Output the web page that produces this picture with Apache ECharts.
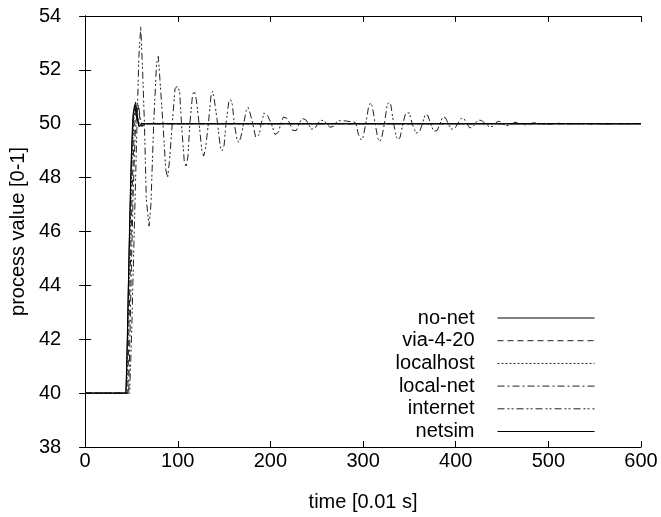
<!DOCTYPE html>
<html lang="en">
<head>
    <meta charset="UTF-8">
    <title>process value</title>
    <script src="https://cdn.jsdelivr.net/npm/echarts@6/dist/echarts.min.js"></script>
    <style>
        html, body { margin: 0; padding: 0; background: #fff; }
        #main { width: 661px; height: 517px; }
    </style>
</head>
<body>
<div id="main"></div>
<script>
    // 图例名称
    var names = ['no-net', 'via-4-20', 'localhost', 'local-net', 'internet', 'netsim'];
    var xTicks = [0, 100, 200, 300, 400, 500, 600];
    var yTicks = [38, 40, 42, 44, 46, 48, 50, 52, 54];

    // [time, value]
    var noNet = [[0, 40], [44, 40], [45, 41], [47, 44.5], [49, 47.5], [51, 49.6], [53, 50.6], [54.5, 50.8],
        [56, 50.4], [58, 49.9], [60, 49.85], [62, 50], [600, 50]];
    var via420 = [[0, 40], [46, 40], [47, 42], [49, 45], [51, 47.8], [53, 49.8], [55, 50.5], [57, 50.7],
        [59, 50.2], [61, 49.9], [64, 50], [600, 50]];
    var localhost = [[0, 40], [45, 40], [46.5, 42.5], [48.5, 45.8], [50.5, 48.5], [52.5, 50.2], [54.5, 50.7],
        [56.5, 50.3], [59, 49.9], [62, 50], [600, 50]];
    var localNet = [[0, 40], [47, 40], [48, 41.5], [50, 44.8], [52, 47.6], [54, 49.6], [56, 50.5], [58, 50.6],
        [60, 50.1], [62, 49.9], [65, 50], [600, 50]];
    var internet = [[0, 40], [48, 40], [50, 42], [53, 46], [56, 50], [58, 52.5], [60, 53.6], [62, 52], [64, 50],
        [66, 47.2], [69, 46.2], [71, 47], [74, 50], [77, 52.2], [79, 52.5], [81, 51.5], [84, 50],
        [87, 48.3], [89, 48.0], [91, 48.6], [94, 50], [97, 51.3], [99.5, 51.4], [102, 51.2], [104, 50],
        [107, 48.6], [109, 48.4], [111, 48.8], [113, 50], [116, 51.1], [118, 51.2], [120, 50.9], [123, 50],
        [126, 49], [128, 48.8], [130, 49.1], [133, 50], [136, 51.1], [137.5, 51.2], [139, 51], [143, 50],
        [146, 49.1], [148, 49.0], [150, 49.2], [152, 50], [155, 50.8], [157, 50.9], [159, 50.7], [161, 50],
        [164, 49.4], [166, 49.3], [168, 49.5], [171, 50], [174, 50.5], [176, 50.6], [178, 50.4], [181, 50],
        [184, 49.5], [186, 49.45], [188, 49.6], [190, 50], [193, 50.4], [194.5, 50.45], [197, 50.3], [201, 50],
        [205, 49.6], [207, 49.55], [209, 49.7], [211, 50], [214, 50.25], [215.5, 50.27], [218, 50.2], [221, 50],
        [224, 49.75], [226, 49.7], [228, 49.75], [231, 50], [234, 50.2], [235.5, 50.21], [238, 50.15], [241, 50],
        [244, 49.8], [246, 49.78], [248, 49.82], [251, 50], [254, 50.14], [255, 50.15], [258, 50.1], [261, 50],
        [264, 49.87], [266, 49.85], [268, 49.9], [271, 50.05], [275, 50.12], [282, 50.1], [292, 50.05],
        [295, 49.6], [298, 49.4], [300, 49.5], [303, 50], [306, 50.65], [308, 50.77], [310, 50.65], [313, 50],
        [316, 49.45], [318, 49.35], [320, 49.45], [323, 50], [326, 50.7], [328, 50.8], [330, 50.7], [333, 50],
        [336, 49.5], [338, 49.4], [340, 49.5], [343, 50], [346, 50.4], [348, 50.46], [350, 50.4], [353, 50],
        [357, 49.65], [359, 49.6], [361, 49.7], [364, 50], [367, 50.35], [368, 50.37], [370, 50.3], [373, 50],
        [376, 49.72], [378, 49.7], [380, 49.75], [383, 50], [386, 50.26], [387, 50.27], [389, 50.22], [392, 50],
        [395, 49.8], [397, 49.78], [399, 49.82], [402, 50], [406, 50.2], [407.5, 50.21], [409, 50.18], [412, 50],
        [415, 49.85], [416.5, 49.84], [418, 49.86], [421, 50], [424, 50.14], [426, 50.15], [428, 50.12], [432, 50],
        [436, 49.89], [438, 49.88], [440, 49.9], [443, 50], [445, 50.09], [446.5, 50.1], [448, 50.08], [451, 50],
        [454, 49.93], [456, 49.92], [458, 49.94], [461, 50], [464, 50.06], [465, 50.06], [468, 50.03], [471, 50],
        [475, 49.96], [480, 50], [485, 50.04], [490, 50], [500, 49.98], [510, 50.02], [520, 50], [540, 50.01],
        [560, 49.99], [600, 50]];
    var netsim = [[0, 40], [44, 40], [45.5, 42], [47.5, 45.5], [49.5, 48.5], [51.5, 50.3], [53.5, 50.7],
        [55.5, 50.3], [58, 49.9], [61, 50], [600, 50]];

    var seriesData = [noNet, via420, localhost, localNet, internet, netsim];
    var dashes = ['solid', [6, 4], [2, 2], [7, 3, 2, 3], [7, 3, 2, 2, 2, 3], 'solid'];
    var colors = ['#000', '#222', '#222', '#222', '#222', '#000'];

    var myChart = echarts.init(document.getElementById('main'));

    var font = 'Liberation Sans, Arial, sans-serif';
    var tickOpt = {show: true, inside: true, length: 6, lineStyle: {color: '#000'}};

    var series = [];
    for (var i = 0; i < names.length; i++) {
        series.push({
            name: names[i],
            type: 'line',
            data: seriesData[i],
            symbol: 'none',
            animation: false,
            lineStyle: {color: colors[i], width: 1, type: dashes[i]},
            itemStyle: {color: colors[i]}
        });
    }

    var option = {
        backgroundColor: '#fff',
        animation: false,
        grid: {left: 83, right: 20, top: 16, bottom: 69},
        legend: {
            data: names,
            orient: 'vertical',
            align: 'right',
            right: 61,
            top: 303,
            itemWidth: 97,
            itemHeight: 14,
            itemGap: 2.7,
            itemStyle: {opacity: 0},
            lineStyle: {width: 1},
            textStyle: {fontFamily: font, fontSize: 20, color: '#000', padding: [0, 18, 0, 0]}
        },
        xAxis: [{
            type: 'value',
            min: 0,
            max: 600,
            interval: 100,
            name: 'time [0.01 s]',
            nameLocation: 'middle',
            nameGap: 45,
            nameTextStyle: {fontFamily: font, fontSize: 20, color: '#000'},
            axisLine: {show: true, lineStyle: {color: '#000', width: 1}},
            axisTick: tickOpt,
            axisLabel: {fontFamily: font, fontSize: 20, color: '#000', margin: 4},
            splitLine: {show: false}
        }, {
            type: 'value',
            position: 'top',
            min: 0,
            max: 600,
            interval: 100,
            axisLine: {show: true, lineStyle: {color: '#000', width: 1}},
            axisTick: tickOpt,
            axisLabel: {show: false},
            splitLine: {show: false}
        }],
        yAxis: [{
            type: 'value',
            min: 38,
            max: 54,
            interval: 2,
            name: 'process value [0-1]',
            nameLocation: 'middle',
            nameGap: 52,
            nameTextStyle: {fontFamily: font, fontSize: 20, color: '#000'},
            axisLine: {show: true, lineStyle: {color: '#000', width: 1}},
            axisTick: tickOpt,
            axisLabel: {fontFamily: font, fontSize: 20, color: '#000', margin: 24},
            splitLine: {show: false}
        }, {
            type: 'value',
            position: 'right',
            min: 38,
            max: 54,
            interval: 2,
            axisLine: {show: true, lineStyle: {color: '#000', width: 1}},
            axisTick: tickOpt,
            axisLabel: {show: false},
            splitLine: {show: false}
        }],
        series: series
    };

    myChart.setOption(option);
</script>
</body>
</html>
